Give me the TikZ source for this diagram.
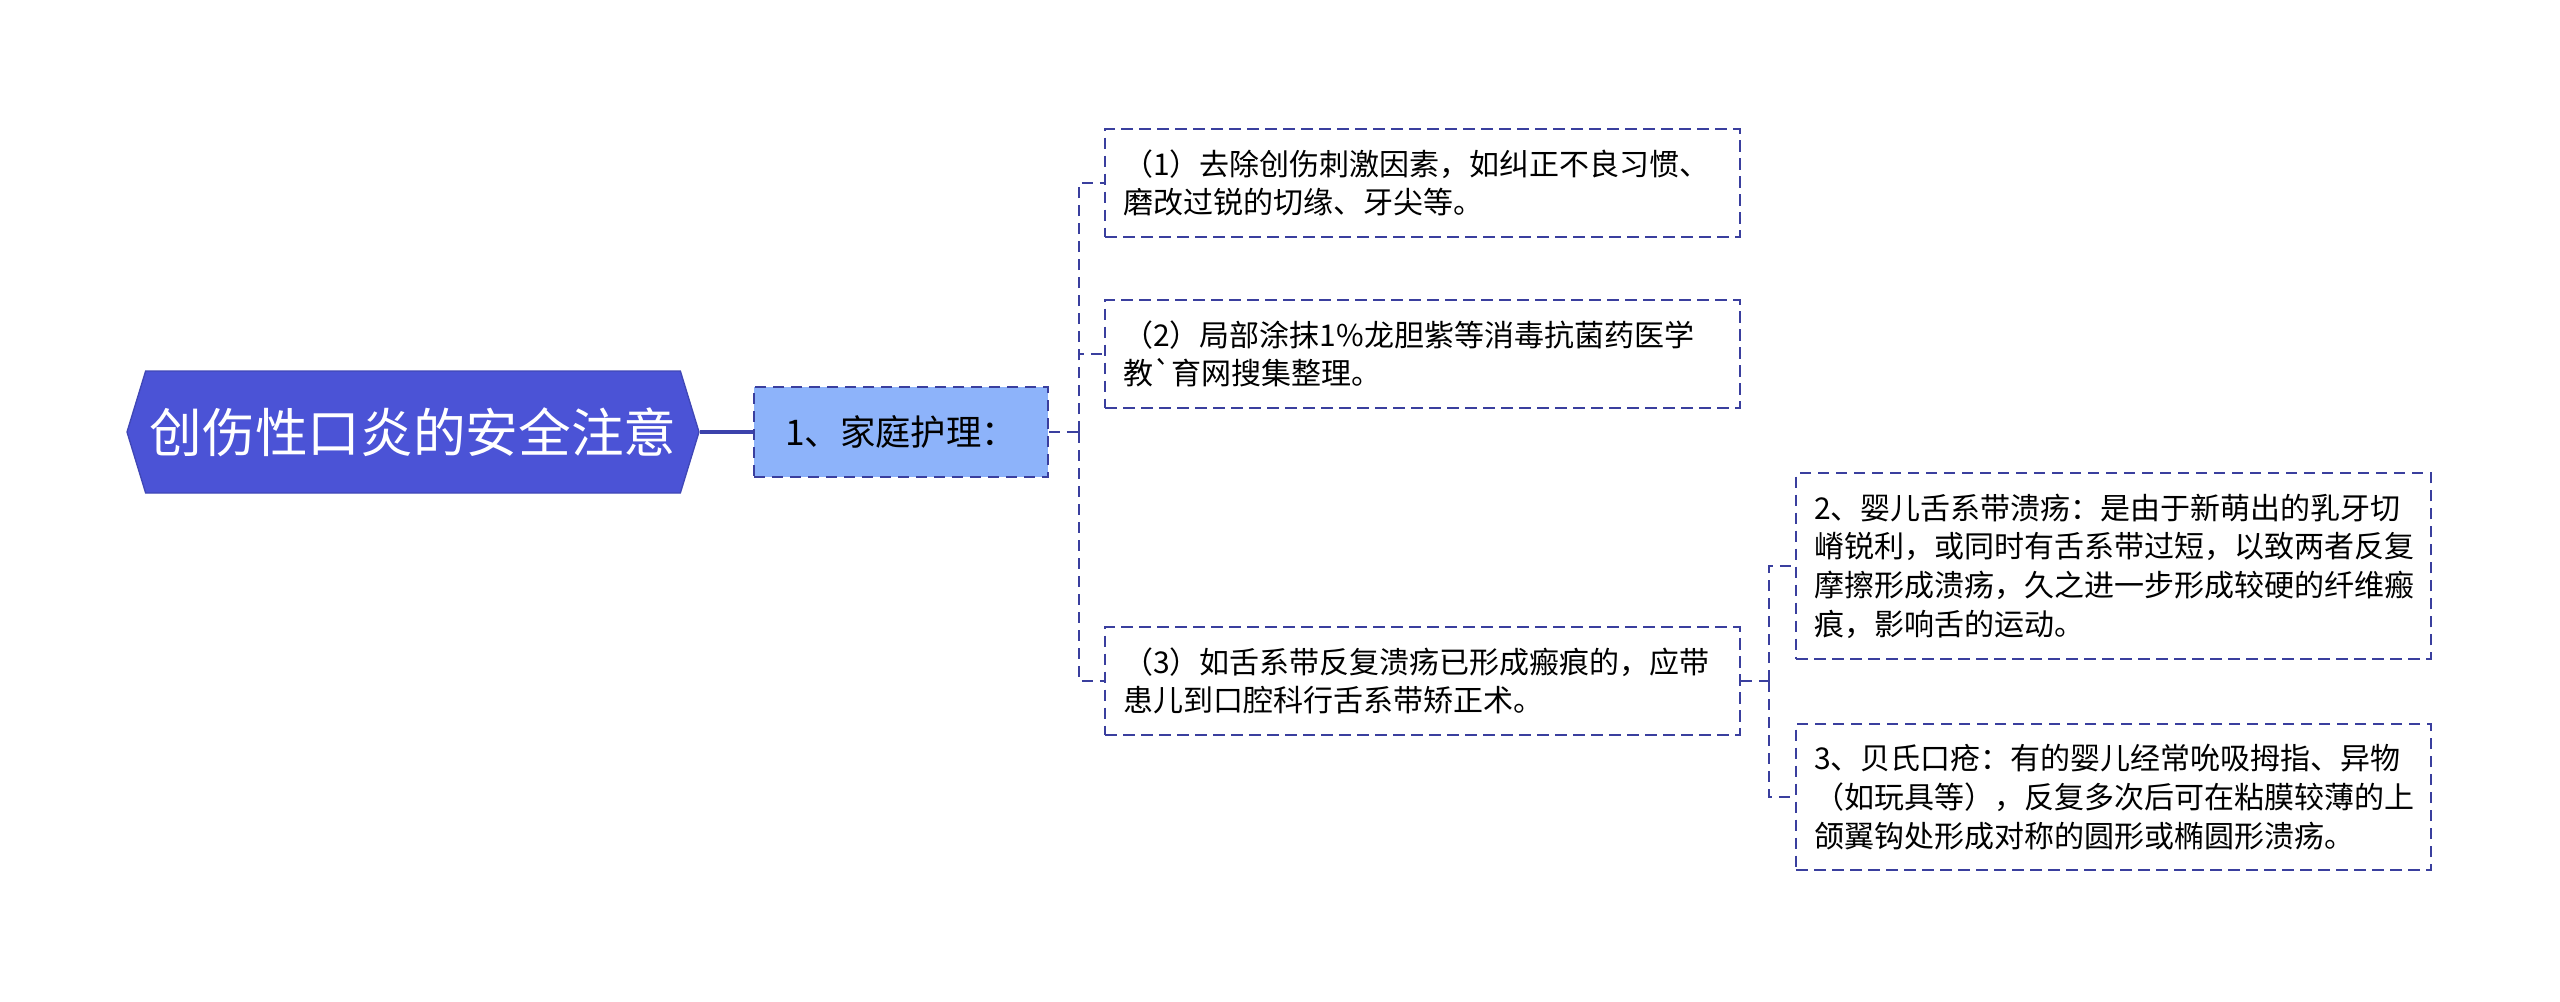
\documentclass[tikz,border=0pt]{standalone}
\usepackage{fontspec}
\setmainfont{Noto Sans CJK SC}
\usetikzlibrary{shapes.symbols}
\definecolor{rootblue}{HTML}{4B53D6}
\definecolor{topicblue}{HTML}{8DB3FA}
\definecolor{linkblue}{HTML}{3A3F9E}
\begin{document}
\begin{tikzpicture}[x=0.75pt, y=-0.75pt,
  rootnode/.style={signal, signal to=west and east, signal pointer angle=146, fill=rootblue, draw=rootblue!85!black, line width=1pt, minimum width=429pt, minimum height=91.5pt, inner sep=0pt, text=white, font=\fontsize{39.5}{46}\selectfont},
  topicbox/.style={draw=linkblue, fill=topicblue, dashed, dash pattern=on 8.5pt off 5pt, line width=1.4pt, minimum width=220.5pt, minimum height=67.5pt, inner sep=0pt, font=\fontsize{26.5}{30}\selectfont},
  leafbox/.style={draw=linkblue, dash pattern=on 8.5pt off 5pt, line width=1.4pt, text width=449pt, inner xsep=13.5pt, inner ysep=0pt, align=left, font=\fontsize{22.5}{29}\selectfont},
  link/.style={draw=linkblue, dash pattern=on 8.5pt off 5pt, line width=1.4pt},
  rootlink/.style={draw=rootblue!80!black, line width=3pt}]
\useasboundingbox (0,0) rectangle (2560,1001);

\node[rootnode] (root) at (413,432) {创伤性口炎的安全注意};
\node[topicbox] (topic) at (901,432) {1、家庭护理：};

\node[leafbox, minimum height=81pt] (c1) at (1422.5,183) {（1）去除创伤刺激因素，如纠正不良习惯、\\磨改过锐的切缘、牙尖等。};
\node[leafbox, minimum height=81pt] (c2) at (1422.5,354) {（2）局部涂抹1\%龙胆紫等消毒抗菌药医学\\教\textasciigrave 育网搜集整理。};
\node[leafbox, minimum height=81pt] (c3) at (1422.5,681) {（3）如舌系带反复溃疡已形成瘢痕的，应带\\患儿到口腔科行舌系带矫正术。};

\node[leafbox, minimum height=139pt] (d1) at (2113.5,566) {2、婴儿舌系带溃疡：是由于新萌出的乳牙切\\嵴锐利，或同时有舌系带过短，以致两者反复\\摩擦形成溃疡，久之进一步形成较硬的纤维瘢\\痕，影响舌的运动。};
\node[leafbox, minimum height=110pt] (d2) at (2113.5,797) {3、贝氏口疮：有的婴儿经常吮吸拇指、异物\\（如玩具等），反复多次后可在粘膜较薄的上\\颌翼钩处形成对称的圆形或椭圆形溃疡。};

\draw[rootlink] (root.east) -- (topic.west);

\draw[link] (topic.east) -- ++(30,0) coordinate (j1);
\draw[link] (j1) |- (c1.west);
\draw[link] (j1) |- (c2.west);
\draw[link] (j1) |- (c3.west);

\draw[link] (c3.east) -- ++(28,0) coordinate (j2);
\draw[link] (j2) |- (d1.west);
\draw[link] (j2) |- (d2.west);
\end{tikzpicture}
\end{document}
